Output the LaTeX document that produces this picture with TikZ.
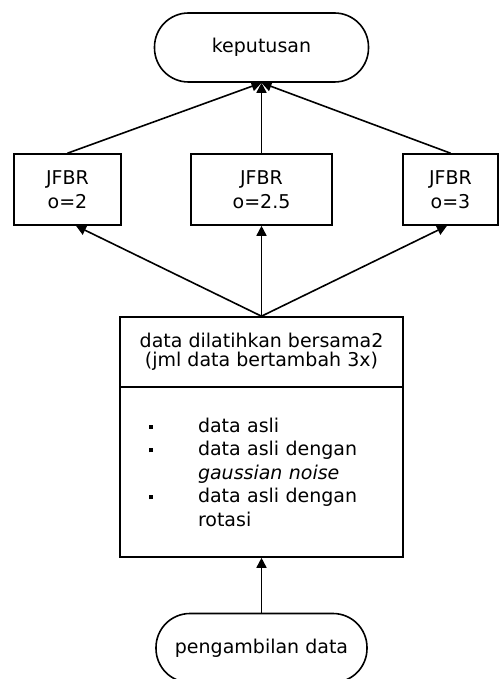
\documentclass[tikz,border=0pt]{standalone}
\usepackage{fontspec}
\setmainfont{DejaVu Sans}
\usepackage{tikz}
\usetikzlibrary{arrows.meta}
\usetikzlibrary{positioning}

\newcommand{\blt}{\makebox[24.5pt][l]{\rule[1.6pt]{2pt}{2pt}}}
\newcommand{\ind}{\hspace*{24.5pt}}

\begin{document}
\begin{tikzpicture}[x=0.5pt,y=-0.5pt,line width=0.8pt,
  every node/.style={font=\fontsize{9.5}{12}\selectfont,inner sep=0pt},
  term/.style={draw,rounded corners=17pt,minimum width=107pt,minimum height=34.5pt},
  box/.style={draw,align=center,minimum height=35.5pt},
  arr/.style={-{Triangle[length=5pt,width=5pt]}}]
  \useasboundingbox (0,0) rectangle (500,679);
  \node[term] (kep) at (261.5,47.5) {keputusan};
  \node[box,minimum width=53.5pt] (j1) at (67.5,189.5) {JFBR\\o=2};
  \node[box,minimum width=70.5pt] (j2) at (261.5,189.5) {JFBR\\o=2.5};
  \node[box,minimum width=47.5pt] (j3) at (450.5,189.5) {JFBR\\o=3};
  \node[box,minimum width=141.5pt,minimum height=35pt,font=\fontsize{9.5}{9.5}\selectfont] (head) at (261.5,352)
    {data dilatihkan bersama2\\(jml data bertambah 3x)};
  \node[box,align=left,text width=112.5pt,inner xsep=14.5pt,minimum height=85pt,font=\fontsize{9.5}{11.75}\selectfont] (list) at (261.5,472)
    {\blt data asli\\ \blt data asli dengan\\ \ind\textit{gaussian noise}\\ \blt data asli dengan\\ \ind rotasi};
  \node[term,minimum width=105.5pt] (ambil) at (261.5,648) {pengambilan data};
  \draw[arr] (j1.north) -- (kep.south);
  \draw[arr] (j2.north) -- (kep.south);
  \draw[arr] (j3.north) -- (kep.south);
  \draw[arr] (head.north) -- ([xshift=4.25pt]j1.south);
  \draw[arr] (head.north) -- (j2.south);
  \draw[arr] (head.north) -- ([xshift=-1.75pt]j3.south);
  \draw[arr] (ambil.north) -- (list.south);
\end{tikzpicture}
\end{document}
